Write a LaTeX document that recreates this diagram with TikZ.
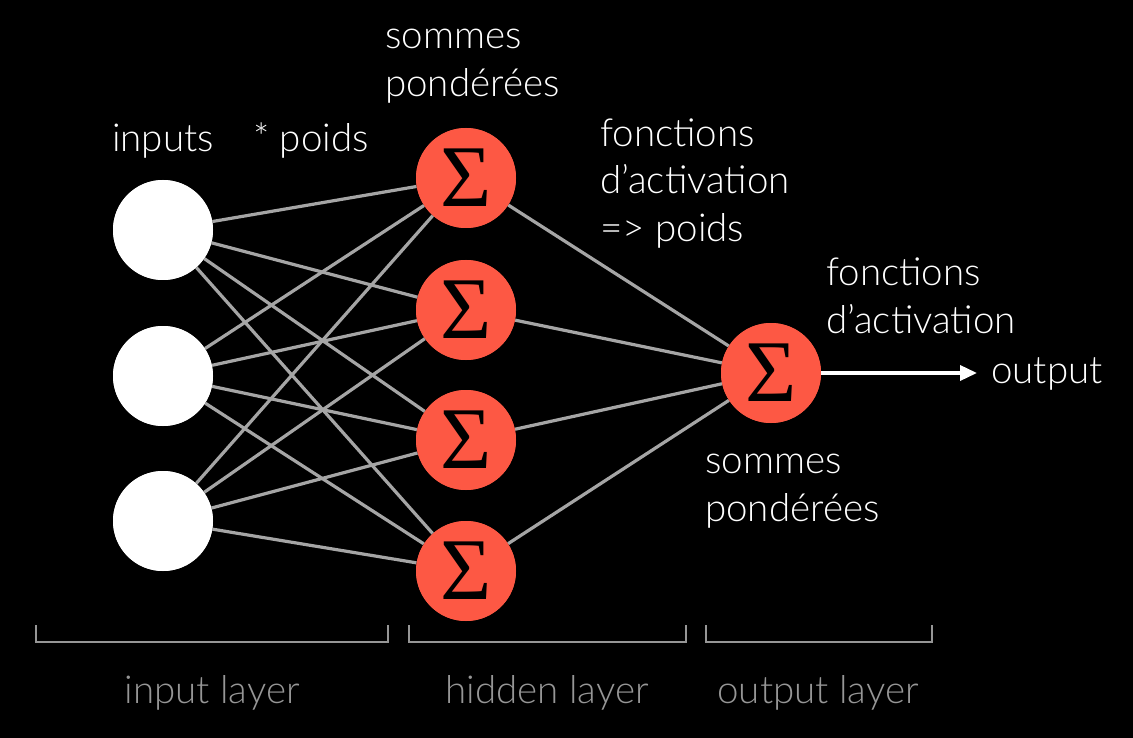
\documentclass[tikz,border=0pt]{standalone}
\usepackage{fontspec}
\setmainfont{Lato Light}
\newfontfamily\sigfont{Liberation Serif}
\usetikzlibrary{arrows.meta}
\definecolor{nred}{RGB}{253,88,68}
\definecolor{edgegray}{RGB}{165,165,165}
\definecolor{labgray}{RGB}{150,150,150}
\begin{document}
\begin{tikzpicture}[x=1pt,y=-1pt,
  inode/.style={circle,fill=white,minimum size=100pt,inner sep=0pt},
  snode/.style={circle,fill=nred,minimum size=100pt,inner sep=0pt,font=\sigfont\fontsize{88}{88}\selectfont},
  edge/.style={draw=edgegray,line width=3.2pt},
  txt/.style={text=white,font=\fontsize{38.5}{48}\selectfont,align=left,inner sep=0pt},
  lab/.style={text=labgray,font=\fontsize{38.5}{40}\selectfont,inner sep=0pt},
  brk/.style={draw=labgray,line width=1.6pt}]
\fill[black] (0,0) rectangle (1133,738);
\useasboundingbox (0,0) rectangle (1133,738);
% input nodes
\node[inode] (i1) at (163,230) {};
\node[inode] (i2) at (163,376) {};
\node[inode] (i3) at (163,521) {};
% hidden nodes
\node[snode] (h1) at (466,178) {};
\node[snode] (h2) at (466,310) {};
\node[snode] (h3) at (466,440) {};
\node[snode] (h4) at (466,571) {};
% output node
\node[snode] (o) at (771,373) {};
% edges
\foreach \i in {1,2,3}{\foreach \h in {1,2,3,4}{\draw[edge] (i\i) -- (h\h);}}
\foreach \h in {1,2,3,4}{\draw[edge] (h\h) -- (o);}
% nodes on top, with their sigma
\node[inode] at (i1) {};
\node[inode] at (i2) {};
\node[inode] at (i3) {};
\node[snode] at (h1) {Σ};
\node[snode] at (h2) {Σ};
\node[snode] at (h3) {Σ};
\node[snode] at (h4) {Σ};
\node[snode] at (o) {Σ};
% output arrow
\node[txt,anchor=base west] (out) at (991,383) {output};
\coordinate (tip) at (977,373);
\draw[white,line width=3.5pt,-{Triangle[length=17pt,width=15pt]}] (o.east) -- (tip);
% texts (base anchor = baseline of the last line)
\node[txt,anchor=base] (tin) at (163,152) {inputs};
\node[txt,anchor=base] (tpo) at (311,152) {* poids};
\node[txt,anchor=base west] (tsp1) at (385,97) {sommes\\pondérées};
\node[txt,anchor=base west] (tfa1) at (600,242) {fonctions\\d’activation\\=> poids};
\node[txt,anchor=base west] (tfa2) at (826,333) {fonctions\\d’activation};
\node[txt,anchor=base west] (tsp2) at (705,521) {sommes\\pondérées};
% brackets
\draw[brk] (36,625) -- (36,642) -- (388,642) -- (388,625);
\draw[brk] (409,625) -- (409,642) -- (686,642) -- (686,625);
\draw[brk] (706,625) -- (706,642) -- (932,642) -- (932,625);
\node[lab,anchor=base] (l1) at (212,703) {input layer};
\node[lab,anchor=base] (l2) at (547,703) {hidden layer};
\node[lab,anchor=base] (l3) at (818,703) {output layer};
\end{tikzpicture}
\end{document}
